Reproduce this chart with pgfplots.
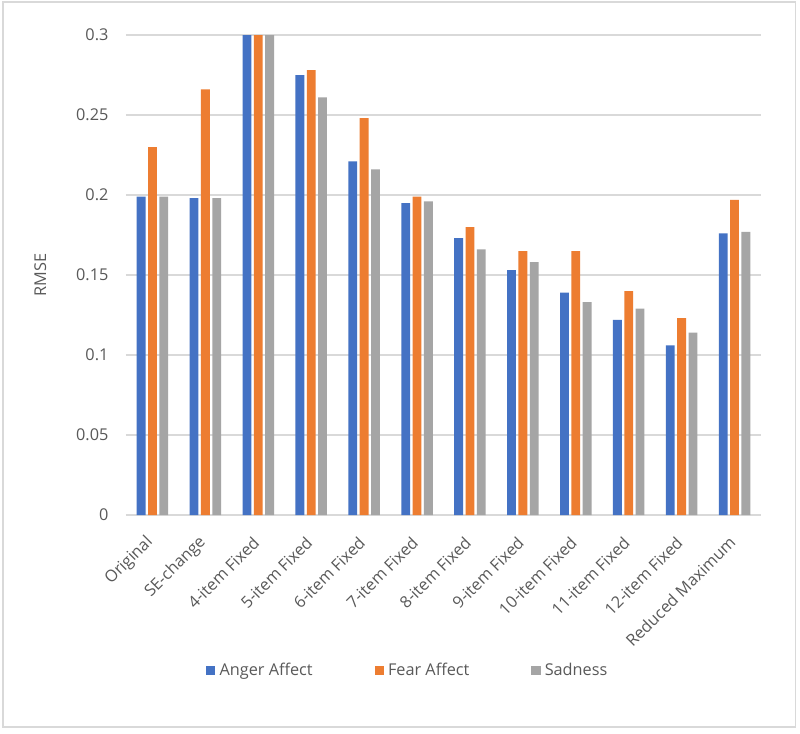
\documentclass[border=0pt]{standalone}
\usepackage{pgfplots}
\pgfplotsset{compat=1.18}
\usepackage{fontspec}
\setmainfont{Open Sans}
\definecolor{cblue}{HTML}{4472C4}
\definecolor{corange}{HTML}{ED7D31}
\definecolor{cgray}{HTML}{A5A5A5}
\definecolor{gridc}{HTML}{D9D9D9}
\definecolor{txt}{HTML}{595959}
\newcommand\lblfont{\fontsize{12.2}{14.5}\selectfont}
\pgfplotsset{sqlegend/.style={legend image code/.code={\fill[##1] (0pt,-3.4pt) rectangle (6.8pt,3.4pt);}}}
\begin{document}
\begin{tikzpicture}
\useasboundingbox (0,0) rectangle (600pt,549.75pt);
\fill[white] (0,0) rectangle (600pt,549.75pt);
\draw[gridc, line width=0.9pt] (2.25pt,4.5pt) rectangle (596.5pt,548.25pt);
\begin{axis}[
  at={(94.5pt,163.5pt)}, anchor=south west,
  scale only axis, width=476.25pt, height=360pt,
  ybar=1.9pt, bar width=6.6pt,
  ymin=0, ymax=0.3,
  xmin=-0.5, xmax=11.5,
  xtick={0,...,11},
  xticklabels={Original,SE-change,4-item Fixed,5-item Fixed,6-item Fixed,7-item Fixed,8-item Fixed,9-item Fixed,10-item Fixed,11-item Fixed,12-item Fixed,Reduced Maximum},
  ytick={0,0.05,0.1,0.15,0.2,0.25,0.3},
  yticklabels={0,0.05,0.1,0.15,0.2,0.25,0.3},
  major tick length=0pt,
  axis x line=bottom, axis y line=left,
  axis line style={draw=none},
  ymajorgrids, grid style={gridc, line width=0.9pt},
  /pgf/number format/assume math mode=true,
  tick label style={font=\lblfont, text=txt},
  yticklabel style={anchor=east, inner sep=0pt, xshift=-13pt},
  xticklabel style={xshift=-1.5pt, yshift=-18.4pt, rotate=45, anchor=east, inner sep=0pt},
  ylabel={RMSE},
  every axis y label/.style={at={(axis description cs:-0.135,0.5)}, rotate=90, anchor=center, font=\lblfont, text=txt},
  legend columns=3,
  legend style={at={(axis description cs:0.126,-0.323)}, anchor=west, draw=none, fill=none, inner sep=0pt,
    nodes={inner sep=0pt, font=\lblfont, text=txt},
    /tikz/every even column/.append style={column sep=46.5pt},
    /tikz/every odd column/.append style={column sep=3.2pt}},
]
\addplot[fill=cblue, draw=none, sqlegend] coordinates {(0,0.199) (1,0.198) (2,0.3) (3,0.275) (4,0.221) (5,0.195) (6,0.173) (7,0.153) (8,0.139) (9,0.122) (10,0.106) (11,0.176)};
\addplot[fill=corange, draw=none, sqlegend] coordinates {(0,0.230) (1,0.266) (2,0.3) (3,0.278) (4,0.248) (5,0.199) (6,0.180) (7,0.165) (8,0.165) (9,0.140) (10,0.123) (11,0.197)};
\addplot[fill=cgray, draw=none, sqlegend] coordinates {(0,0.199) (1,0.198) (2,0.3) (3,0.261) (4,0.216) (5,0.196) (6,0.166) (7,0.158) (8,0.133) (9,0.129) (10,0.114) (11,0.177)};
\legend{Anger Affect, Fear Affect, Sadness}
\end{axis}
\end{tikzpicture}
\end{document}
